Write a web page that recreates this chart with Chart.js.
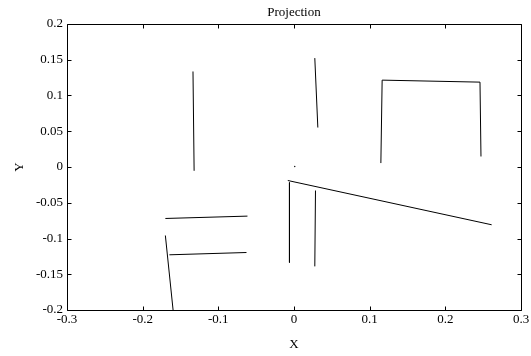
<!DOCTYPE html>
<html>
<head>
<meta charset="utf-8">
<script src="https://cdn.jsdelivr.net/npm/chart.js@4/dist/chart.umd.min.js"></script>
<style>
  html, body { margin: 0; padding: 0; background: #fff; }
  #wrap { width: 531px; height: 356px; }
</style>
</head>
<body>
<div id="wrap"><canvas id="c" width="531" height="356"></canvas></div>
<script>
// Segments: [x, y] end points
const segLeftVertical   = [[-0.1335, 0.1336], [-0.1320, -0.0053]];
const segMidVertical    = [[0.0275, 0.1523], [0.0315, 0.0552]];
const segBracket        = [[0.1148, 0.0055], [0.1165, 0.1215], [0.2458, 0.1187], [0.2471, 0.0147]];
const segUpperBar       = [[-0.1700, -0.0720], [-0.0615, -0.0687]];
const segLowerBar       = [[-0.1647, -0.1228], [-0.0628, -0.1196]];
const segSlant          = [[-0.1700, -0.0958], [-0.1598, -0.2000]];
const segLongDiagonal   = [[-0.0082, -0.0189], [0.2612, -0.0808]];
const segPostA          = [[-0.0060, -0.0217], [-0.0060, -0.1336]];
const segPostB          = [[0.0284, -0.0329], [0.0275, -0.1390]];
const dotOrigin         = [[0.0010, 0.0007]];

const xTicks = [-0.3, -0.2, -0.1, 0, 0.1, 0.2, 0.3];
const yTicks = [-0.2, -0.15, -0.1, -0.05, 0, 0.05, 0.1, 0.15, 0.2];
const titleText = 'Projection';

const segments = [segLeftVertical, segMidVertical, segBracket, segUpperBar, segLowerBar,
                  segSlant, segLongDiagonal, segPostA, segPostB];

const toPts = s => s.map(p => ({x: p[0], y: p[1]}));

const datasets = segments.map(s => ({
  data: toPts(s),
  showLine: true,
  borderColor: '#000',
  borderWidth: 1,
  pointRadius: 0,
  fill: false,
  tension: 0
}));
datasets.push({
  data: toPts(dotOrigin),
  showLine: false,
  pointRadius: 0.7,
  pointBackgroundColor: '#000',
  pointBorderWidth: 0
});

const serif = "'Liberation Serif', 'DejaVu Serif', serif";

const frame = {
  id: 'frame',
  afterDraw(chart) {
    const {ctx, chartArea: a, scales: {x, y}} = chart;
    ctx.save();
    ctx.strokeStyle = '#000';
    ctx.lineWidth = 1;
    const L = Math.round(a.left) + 0.5, R = Math.round(a.right) + 0.5;
    const T = Math.round(a.top) + 0.5, B = Math.round(a.bottom) + 0.5;
    ctx.beginPath();
    ctx.moveTo(L, T); ctx.lineTo(R, T); ctx.lineTo(R, B); ctx.lineTo(L, B); ctx.closePath();
    ctx.stroke();
    const len = 4;
    ctx.beginPath();
    xTicks.forEach(v => {
      const px = Math.round(x.getPixelForValue(v)) + 0.5;
      ctx.moveTo(px, B); ctx.lineTo(px, B - len);
      ctx.moveTo(px, T); ctx.lineTo(px, T + len);
    });
    yTicks.forEach(v => {
      const py = Math.round(y.getPixelForValue(v)) + 0.5;
      ctx.moveTo(L, py); ctx.lineTo(L + len, py);
      ctx.moveTo(R, py); ctx.lineTo(R - len, py);
    });
    ctx.stroke();
    // title centred over the plot area
    ctx.fillStyle = '#000';
    ctx.font = '13px ' + serif;
    ctx.textAlign = 'center';
    ctx.textBaseline = 'middle';
    ctx.fillText(titleText, (a.left + a.right) / 2, 12.5);
    ctx.restore();
  }
};

const fmt = v => String(Math.round(v * 100) / 100);

new Chart(document.getElementById('c'), {
  type: 'scatter',
  data: { datasets },
  options: {
    responsive: false,
    animation: false,
    devicePixelRatio: 1,
    layout: { padding: { left: 12, right: 10, top: 24, bottom: 4 } },
    plugins: {
      legend: { display: false },
      tooltip: { enabled: false },
      title: { display: false }
    },
    scales: {
      x: {
        type: 'linear',
        min: -0.3, max: 0.3,
        afterBuildTicks: s => { s.ticks = xTicks.map(v => ({value: v})); },
        afterFit: s => { s.height = 42; s.paddingLeft = 0; s.paddingRight = 0; },
        grid: { display: false, drawTicks: false },
        border: { display: false },
        ticks: {
          color: '#000', padding: 2,
          font: { family: serif, size: 13 },
          callback: v => fmt(v),
          maxRotation: 0, autoSkip: false
        },
        title: {
          display: true, text: 'X', color: '#000',
          font: { family: serif, size: 13, lineHeight: 1.2 },
          padding: 0
        }
      },
      y: {
        type: 'linear',
        min: -0.2, max: 0.2,
        afterBuildTicks: s => { s.ticks = yTicks.map(v => ({value: v})); },
        afterFit: s => { s.width = 55; s.paddingTop = 0; s.paddingBottom = 0; },
        grid: { display: false, drawTicks: false },
        border: { display: false },
        ticks: {
          color: '#000', padding: 4,
          font: { family: serif, size: 13 },
          callback: v => fmt(v),
          autoSkip: false
        },
        title: {
          display: true, text: 'Y', color: '#000',
          font: { family: serif, size: 13, lineHeight: 1.2 },
          padding: 0
        }
      }
    }
  },
  plugins: [frame]
});
</script>
</body>
</html>
